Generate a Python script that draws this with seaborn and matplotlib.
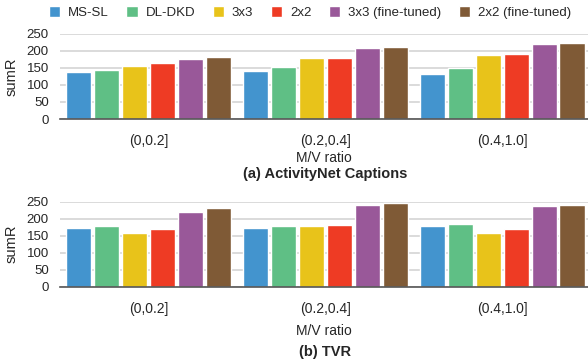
import seaborn as sns
import pandas as pd
import matplotlib.pyplot as plt

ratios = ['(0,0.2]', '(0.2,0.4]', '(0.4,1.0]']
methods = ['MS-SL', 'DL-DKD', '3x3', '2x2', '3x3 (fine-tuned)', '2x2 (fine-tuned)']

# sumR per method, one value per M/V ratio bin
anet_msl = [138, 141, 132]
anet_dldkd = [143, 152, 149]
anet_3x3 = [156, 178, 187]
anet_2x2 = [165, 178, 190]
anet_3x3_ft = [176, 208, 220]
anet_2x2_ft = [181, 211, 223]

tvr_msl = [172, 172, 178]
tvr_dldkd = [178, 178, 184]
tvr_3x3 = [158, 178, 158]
tvr_2x2 = [169, 181, 169]
tvr_3x3_ft = [219, 240, 237]
tvr_2x2_ft = [231, 246, 240]

colors = ['#4394CE', '#5FBF85', '#E8C31A', '#EE3B24', '#995899', '#7F5A36']


def long_table(series):
    rows = []
    for m, vals in zip(methods, series):
        for r, v in zip(ratios, vals):
            rows.append({'ratio': r, 'method': m, 'sumR': v})
    return pd.DataFrame(rows)


anet = long_table([anet_msl, anet_dldkd, anet_3x3, anet_2x2, anet_3x3_ft, anet_2x2_ft])
tvr = long_table([tvr_msl, tvr_dldkd, tvr_3x3, tvr_2x2, tvr_3x3_ft, tvr_2x2_ft])

sns.set_theme(style='white')
plt.rcParams['font.family'] = ['Liberation Sans', 'DejaVu Sans']

fig = plt.figure(figsize=(5.88, 3.64), dpi=100)
ax1 = fig.add_axes([0.102, 0.673, 0.898, 0.234])
ax2 = fig.add_axes([0.102, 0.212, 0.898, 0.234])

panels = [(ax1, anet, '(a) ActivityNet Captions', 0.511, 2),
          (ax2, tvr, '(b) TVR', 0.021, 6)]
for ax, df, caption, cap_y, xpad in panels:
    sns.barplot(data=df, x='ratio', y='sumR', hue='method', hue_order=methods,
                palette=colors, width=0.95, gap=0.1, saturation=1, ax=ax,
                legend=(ax is ax1))
    ax.set_ylim(0, 250)
    ax.set_yticks([0, 50, 100, 150, 200, 250])
    ax.set_xlim(-0.503, 2.486)
    ax.yaxis.grid(True, color='#d4d4d4', linewidth=1.2)
    ax.set_axisbelow(True)
    for s in ['top', 'right', 'left']:
        ax.spines[s].set_visible(False)
    ax.spines['bottom'].set_color('#555555')
    ax.spines['bottom'].set_linewidth(1.2)
    ax.tick_params(axis='y', length=0, labelsize=9.5, pad=8)
    ax.tick_params(axis='x', length=0, labelsize=10, pad=11)
    ax.set_ylabel('sumR', fontsize=10.5, labelpad=6)
    ax.set_xlabel('M/V ratio', fontsize=10, labelpad=xpad)
    fig.text(0.553, cap_y, caption, ha='center', fontsize=10.5, fontweight='bold')

handles, labels = ax1.get_legend_handles_labels()
ax1.get_legend().remove()
fig.legend(handles, labels, loc='upper center', bbox_to_anchor=(0.527, 1.015), ncol=6,
           frameon=False, fontsize=9.5, handlelength=0.85, handleheight=0.85,
           columnspacing=1.33, handletextpad=0.6)

fig.savefig('out.png', dpi=100)
